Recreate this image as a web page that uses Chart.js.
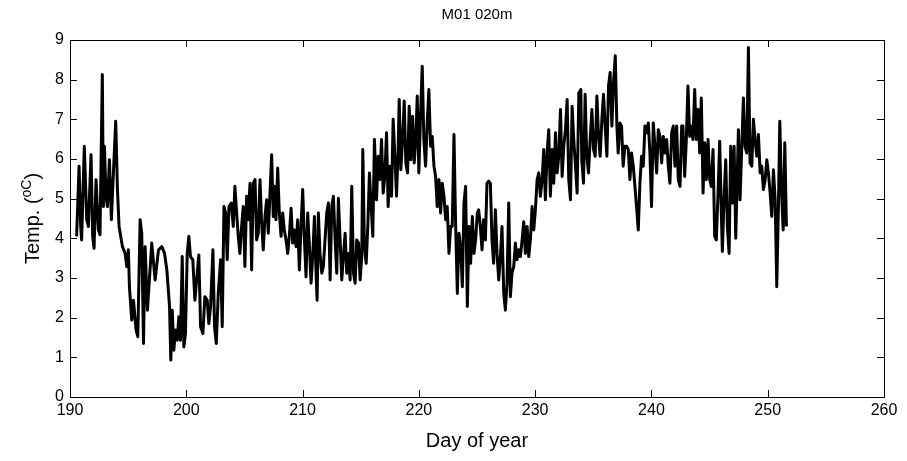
<!DOCTYPE html>
<html>
<head>
<meta charset="utf-8">
<title>M01 020m</title>
<script src="https://cdn.jsdelivr.net/npm/chart.js@4.4.1/dist/chart.umd.min.js"></script>
<style>
    html, body { margin: 0; padding: 0; background: #fff; }
    #wrap { width: 907px; height: 461px; }
</style>
</head>
<body>
<div id="wrap"><canvas id="tempgraph" width="907" height="461"></canvas></div>
<script>
// mooring M01, sensor at 20 m: temperature vs. day of year
var plotTitle = "M01 020m";
var xTitle = "Day of year";
var xTicks = [190, 200, 210, 220, 230, 240, 250, 260];
var yTicks = [0, 1, 2, 3, 4, 5, 6, 7, 8, 9];

var dayOfYear = [
    190.57, 190.78, 190.92, 191.00, 191.23, 191.44, 191.58, 191.81, 191.95, 192.07,
    192.24, 192.44, 192.58, 192.78, 192.87, 192.96, 193.10, 193.22, 193.39, 193.56,
    193.67, 193.93, 194.08, 194.22, 194.51, 194.74, 194.88, 195.02, 195.11, 195.31,
    195.46, 195.68, 195.83, 196.03, 196.17, 196.32, 196.46, 196.66, 197.03, 197.32,
    197.61, 197.90, 198.13, 198.33, 198.56, 198.67,
    198.79, 198.93, 199.07, 199.22, 199.36, 199.50, 199.65, 199.79, 199.93, 200.08,
    200.22, 200.36, 200.56, 200.74, 200.94, 201.08, 201.23, 201.43, 201.60, 201.80,
    201.94, 202.09, 202.29, 202.43, 202.58, 202.75, 202.95, 203.09, 203.24, 203.38,
    203.52, 203.67, 203.87, 204.04, 204.18, 204.33, 204.47, 204.61, 204.76, 204.90,
    205.04, 205.19, 205.33, 205.48, 205.62, 205.76, 205.91, 206.05, 206.19, 206.34,
    206.48, 206.62, 206.77, 206.91, 207.05, 207.20, 207.34, 207.48,
    207.57, 207.71, 207.86, 208.00, 208.15, 208.29, 208.43, 208.58, 208.72, 208.86,
    209.01, 209.15, 209.29, 209.44, 209.58, 209.72, 209.87, 210.01, 210.16, 210.30,
    210.44, 210.59, 210.73, 210.87, 211.02, 211.16, 211.25, 211.36, 211.50, 211.65,
    211.79, 211.93, 212.08, 212.22, 212.37, 212.51, 212.65, 212.80, 212.94, 213.08,
    213.23, 213.37, 213.51, 213.66, 213.80, 213.94, 214.09, 214.23, 214.38, 214.52,
    214.66, 214.81, 214.95, 215.09, 215.18, 215.32, 215.47, 215.61, 215.75, 215.90,
    216.04, 216.18,
    216.36, 216.50, 216.64, 216.79, 216.93, 217.07, 217.22, 217.36, 217.51, 217.65,
    217.79, 217.94, 218.08, 218.22, 218.31, 218.45, 218.60, 218.74, 218.88, 219.03,
    219.17, 219.31, 219.46, 219.60, 219.75, 219.86, 220.00, 220.15, 220.29, 220.43,
    220.58, 220.72, 220.86, 221.01, 221.15, 221.30, 221.44, 221.58, 221.73, 221.87,
    222.01, 222.16, 222.30, 222.44, 222.59, 222.73, 222.87, 223.02, 223.16, 223.31,
    223.45, 223.59, 223.74, 223.88, 224.02, 224.17, 224.31, 224.45, 224.60, 224.74,
    224.88, 225.03,
    225.14, 225.29, 225.43, 225.57, 225.72, 225.86, 226.00, 226.15, 226.29, 226.43,
    226.58, 226.72, 226.87, 227.01, 227.15, 227.30, 227.44, 227.58, 227.73, 227.87,
    228.01, 228.16, 228.30, 228.44, 228.59, 228.73, 228.88, 229.02, 229.16, 229.31,
    229.45, 229.59, 229.74, 229.88, 230.02, 230.17, 230.31, 230.45, 230.60, 230.74,
    230.88, 231.03, 231.17, 231.31, 231.46, 231.60, 231.75, 231.89, 232.03, 232.18,
    232.32, 232.46, 232.61, 232.75, 232.89, 233.04, 233.18, 233.32, 233.47, 233.61,
    233.76,
    233.93, 234.01, 234.16, 234.30, 234.44, 234.59, 234.73, 234.88, 235.02, 235.16,
    235.31, 235.45, 235.59, 235.74, 235.88, 236.02, 236.17, 236.31, 236.45, 236.60,
    236.74, 236.89, 237.03, 237.14, 237.29, 237.43, 237.57, 237.72, 237.86, 238.01,
    238.15, 238.29, 238.44, 238.58, 238.72, 238.87, 239.01, 239.15, 239.30, 239.44,
    239.58, 239.73, 239.87, 240.01, 240.16, 240.30, 240.45, 240.59, 240.73, 240.88,
    241.02, 241.16, 241.31, 241.45, 241.59, 241.74, 241.88, 242.02, 242.17, 242.31,
    242.46, 242.60,
    242.71, 242.86, 243.00, 243.14, 243.29, 243.43, 243.57, 243.72, 243.86, 244.01,
    244.15, 244.29, 244.44, 244.58, 244.72, 244.87, 245.01, 245.15, 245.30, 245.44,
    245.58, 245.73, 245.87, 246.02, 246.10, 246.25, 246.39, 246.53, 246.68, 246.82,
    246.96, 247.11, 247.25, 247.39, 247.48, 247.62, 247.77, 247.91, 248.05, 248.20,
    248.34, 248.48, 248.63, 248.77, 248.91, 249.06, 249.20, 249.35, 249.49, 249.63,
    249.78, 249.92, 250.06, 250.21, 250.35, 250.49, 250.64, 250.78, 250.92, 251.04,
    251.18, 251.33, 251.47, 251.61
];

var tempC = [
    4.05, 5.82, 4.30, 3.96, 6.32, 4.47, 4.30, 6.11, 4.05, 3.75,
    5.48, 4.21, 4.09, 8.13, 4.80, 6.32, 5.06, 4.80, 5.98, 4.47,
    5.23, 6.95, 5.23, 4.30, 3.79, 3.62, 3.29, 3.71, 2.78, 1.94,
    2.44, 1.69, 1.52, 4.47, 4.13, 1.35, 3.79, 2.19, 3.88, 2.95,
    3.71, 3.79, 3.62, 3.20, 2.28, 0.93,
    2.19, 1.18, 1.69, 1.43, 2.02, 1.43, 3.54, 1.26, 1.60, 3.62,
    4.05, 3.54, 3.46, 2.44, 3.12, 3.58, 1.77, 1.60, 2.53, 2.44,
    1.85, 2.28, 3.71, 1.77, 1.35, 2.61, 3.46, 1.77, 4.80, 4.64,
    3.46, 4.80, 4.89, 4.30, 5.31, 4.64, 4.05, 3.62, 4.30, 4.80,
    3.29, 5.06, 4.47, 5.39, 3.20, 5.39, 5.48, 3.96, 4.13, 5.48,
    4.38, 3.71, 4.55, 4.97, 4.13, 5.14, 6.11, 4.55,
    5.31, 4.47, 5.77, 4.64, 4.05, 4.64, 4.21, 3.96, 3.62, 4.05,
    4.76, 3.88, 4.21, 3.79, 4.47, 3.20, 4.30, 5.23, 3.96, 3.03,
    4.64, 3.79, 2.87, 3.54, 4.55, 3.12, 2.44, 4.64, 3.62, 3.12,
    3.29, 3.96, 4.64, 4.89, 2.95, 4.80, 5.06, 3.96, 3.12, 5.01,
    3.96, 2.95, 3.54, 4.13, 3.12, 3.62, 2.95, 5.31, 3.12, 2.87,
    3.96, 3.88, 2.95, 3.54, 6.24, 3.79, 3.37, 4.30, 5.65, 4.80,
    4.05, 6.49,
    4.97, 6.07, 5.48, 6.49, 5.14, 5.56, 6.66, 4.80, 5.82, 5.06,
    7.00, 6.07, 5.06, 6.24, 7.50, 5.73, 6.49, 7.46, 5.90, 5.65,
    7.33, 5.98, 7.08, 5.90, 6.57, 7.59, 5.65, 7.16, 8.34, 6.49,
    5.82, 6.91, 7.75, 6.32, 6.57, 5.82, 5.56, 4.80, 5.48, 4.64,
    5.39, 5.06, 4.47, 4.80, 3.62, 4.30, 4.30, 6.62, 4.38, 2.61,
    4.13, 3.79, 2.78, 4.89, 5.31, 2.28, 4.30, 3.37, 4.55, 3.62,
    3.96, 4.64,
    4.72, 4.30, 3.71, 4.47, 3.96, 5.39, 5.44, 5.39, 3.96, 3.37,
    4.72, 3.62, 2.95, 3.54, 4.30, 2.61, 2.19, 2.87, 4.89, 2.53,
    3.12, 3.29, 3.88, 3.46, 3.71, 3.54, 3.96, 4.42, 3.62, 4.30,
    3.54, 3.96, 4.80, 4.21, 4.72, 5.48, 5.65, 5.06, 5.48, 6.24,
    4.97, 6.15, 6.74, 5.06, 6.24, 5.39, 6.66, 5.65, 6.07, 7.25,
    5.56, 6.32, 6.74, 7.50, 5.48, 4.97, 7.33, 6.49, 5.82, 5.14,
    7.67,
    7.75, 5.98, 5.39, 7.63, 6.07, 5.65, 6.49, 7.25, 6.24, 6.07,
    7.59, 6.57, 6.07, 7.00, 7.63, 6.83, 6.07, 7.84, 8.18, 6.83,
    7.92, 8.60, 6.83, 6.15, 6.91, 6.83, 5.82, 6.32, 6.32, 6.24,
    5.48, 6.15, 5.82, 5.31, 4.80, 4.21, 5.39, 6.07, 5.82, 6.83,
    6.66, 6.91, 6.15, 4.80, 6.91, 6.32, 5.65, 6.74, 6.57, 5.90,
    6.57, 6.15, 6.49, 5.82, 5.39, 6.66, 6.83, 5.82, 6.83, 5.48,
    5.31, 6.83,
    6.83, 5.56, 6.49, 7.84, 6.57, 6.83, 6.49, 7.75, 6.49, 7.25,
    6.15, 7.54, 5.14, 6.41, 5.48, 6.49, 5.48, 5.31, 6.24, 4.05,
    3.96, 5.14, 6.45, 4.55, 3.67, 5.06, 5.98, 4.30, 3.62, 6.32,
    4.89, 6.32, 4.00, 5.65, 6.74, 4.97, 6.32, 7.54, 6.32, 6.15,
    8.81, 5.90, 5.82, 7.00, 6.49, 6.07, 6.62, 5.65, 5.82, 5.23,
    5.48, 5.98, 5.65, 5.14, 4.55, 5.73, 4.97, 2.78, 4.80, 6.95,
    5.23, 4.21, 6.41, 4.30
];

var FONT = "'Liberation Sans', Arial, Helvetica, sans-serif";

// box round the axes with inward ticks on all four sides, plus the texts
var matlabFrame = {
    id: 'matlabFrame',
    afterDraw: function(chart) {
        var ctx = chart.ctx;
        var a = chart.chartArea;
        var sx = chart.scales.x;
        var sy = chart.scales.y;
        var tick = 7;
        ctx.save();
        ctx.strokeStyle = '#000';
        ctx.lineWidth = 1;
        ctx.strokeRect(Math.round(a.left) + 0.5, Math.round(a.top) + 0.5,
            Math.round(a.right - a.left), Math.round(a.bottom - a.top));
        ctx.beginPath();
        xTicks.forEach(function(v) {
            var px = Math.round(sx.getPixelForValue(v)) + 0.5;
            ctx.moveTo(px, a.bottom); ctx.lineTo(px, a.bottom - tick);
            ctx.moveTo(px, a.top); ctx.lineTo(px, a.top + tick);
        });
        yTicks.forEach(function(v) {
            var py = Math.round(sy.getPixelForValue(v)) + 0.5;
            ctx.moveTo(a.left, py); ctx.lineTo(a.left + tick, py);
            ctx.moveTo(a.right, py); ctx.lineTo(a.right - tick, py);
        });
        ctx.stroke();

        ctx.fillStyle = '#000';
        ctx.textAlign = 'center';
        ctx.textBaseline = 'middle';
        ctx.font = '15px ' + FONT;
        ctx.fillText(plotTitle, (a.left + a.right) / 2, 15);
        ctx.font = '20px ' + FONT;
        ctx.fillText(xTitle, (a.left + a.right) / 2, 441);

        // y label: "Temp. (" + raised "oC" + ")"
        var big = '20px ' + FONT, small = '14px ' + FONT;
        ctx.font = big;
        var w1 = ctx.measureText('Temp. (').width;
        var w3 = ctx.measureText(')').width;
        ctx.font = small;
        var w2 = ctx.measureText('oC').width;
        var total = w1 + w2 + w3;
        ctx.translate(32, (a.top + a.bottom) / 2);
        ctx.rotate(-Math.PI / 2);
        ctx.textAlign = 'left';
        ctx.textBaseline = 'alphabetic';
        var x0 = -total / 2;
        ctx.font = big;
        ctx.fillText('Temp. (', x0, 7);
        ctx.font = small;
        ctx.fillText('oC', x0 + w1, -1);
        ctx.font = big;
        ctx.fillText(')', x0 + w1 + w2, 7);
        ctx.restore();
    }
};

var points = dayOfYear.map(function(d, i) { return {x: d, y: tempC[i]}; });

new Chart(document.getElementById('tempgraph').getContext('2d'), {
    type: 'line',
    data: {
        datasets: [{
            label: plotTitle,
            data: points,
            borderColor: '#000',
            borderWidth: 3,
            borderJoinStyle: 'round',
            fill: false,
            tension: 0
        }]
    },
    options: {
        responsive: false,
        animation: false,
        devicePixelRatio: 1,
        layout: { padding: { left: 0, right: 23, top: 40, bottom: 0 } },
        plugins: {
            legend: { display: false },
            tooltip: { enabled: false }
        },
        elements: { point: { radius: 0 } },
        scales: {
            x: {
                type: 'linear',
                min: 190,
                max: 260,
                afterFit: function(s) { s.height = 64; },
                afterBuildTicks: function(s) { s.ticks = xTicks.map(function(v) { return {value: v}; }); },
                grid: { display: false, drawTicks: false },
                border: { display: false },
                ticks: { color: '#000', padding: 4, maxRotation: 0, font: { family: FONT, size: 16 } }
            },
            y: {
                min: 0,
                max: 9,
                afterFit: function(s) { s.width = 70; },
                afterBuildTicks: function(s) { s.ticks = yTicks.map(function(v) { return {value: v}; }); },
                grid: { display: false, drawTicks: false },
                border: { display: false },
                ticks: { color: '#000', padding: 6, font: { family: FONT, size: 16 } }
            }
        }
    },
    plugins: [matlabFrame]
});
</script>
</body>
</html>
